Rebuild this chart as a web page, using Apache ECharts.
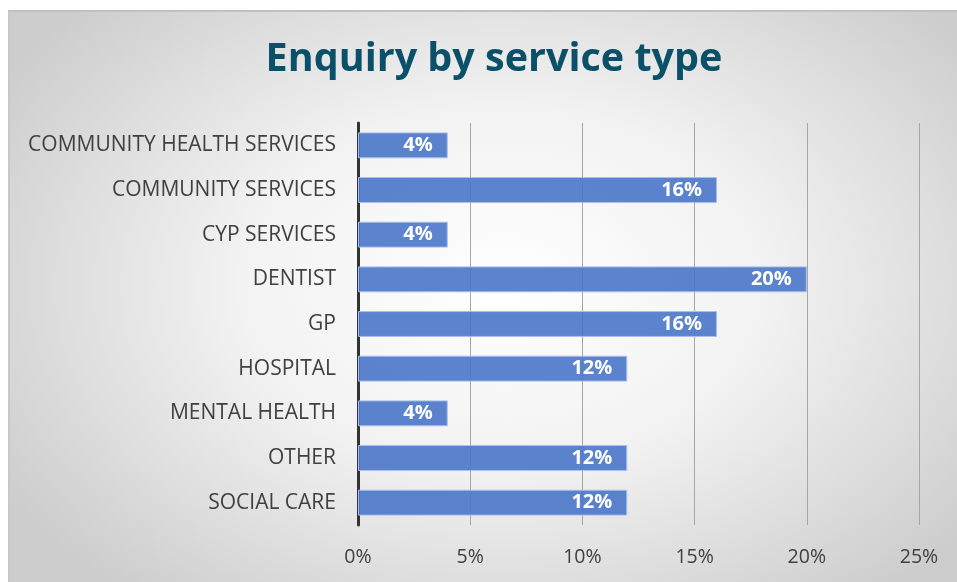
<!DOCTYPE html>
<html>
<head>
<meta charset="utf-8">
<script src="https://cdn.jsdelivr.net/npm/echarts@6/dist/echarts.min.js"></script>
<style>
  html, body { margin: 0; padding: 0; background: #ffffff; }
  #frame {
    position: absolute; left: 8px; top: 10px; width: 949px; height: 572px;
    border-top: 2px solid #c0c0c0; border-left: 2px solid #c8c8c8;
    background: radial-gradient(ellipse 62% 70% at 52% 48%, #ffffff 0%, #f2f2f2 45%, #cdcdcd 100%);
    box-sizing: border-box;
  }
  #chart { position: absolute; left: 0; top: 0; width: 957px; height: 582px; }
</style>
</head>
<body>
<div id="frame"></div>
<div id="chart"></div>
<script>
// Share of enquiries by service type, top row first
const categories = [
  'COMMUNITY HEALTH SERVICES',
  'COMMUNITY SERVICES',
  'CYP SERVICES',
  'DENTIST',
  'GP',
  'HOSPITAL',
  'MENTAL HEALTH',
  'OTHER',
  'SOCIAL CARE'
];
const shares = [4, 16, 4, 20, 16, 12, 4, 12, 12];
const xTicks = [0, 5, 10, 15, 20, 25];

const font = 'Open Sans';
const chart = echarts.init(document.getElementById('chart'), null, { renderer: 'canvas' });

chart.setOption({
  backgroundColor: 'transparent',
  animation: false,
  title: {
    text: 'Enquiry by service type',
    left: 489,
    textAlign: 'center',
    top: 35,
    textStyle: { fontFamily: font, fontWeight: 'bold', fontSize: 39.5, color: '#0b5069' }
  },
  grid: { left: 358, right: 38, top: 123, bottom: 57, containLabel: false },
  xAxis: {
    type: 'value',
    min: xTicks[0],
    max: xTicks[xTicks.length - 1],
    interval: 5,
    axisLine: { show: false },
    axisTick: { show: false },
    splitLine: { show: true, lineStyle: { color: '#a6a6a6', width: 1 } },
    axisLabel: {
      formatter: v => v + '%',
      fontFamily: font, fontSize: 19.5, color: '#404040', margin: 22
    }
  },
  yAxis: {
    type: 'category',
    data: categories,
    inverse: true,
    axisLine: { show: true, lineStyle: { color: '#333333', width: 3 } },
    axisTick: { show: false },
    splitLine: { show: false },
    axisLabel: { fontFamily: font, fontSize: 21, color: '#404040', margin: 22 }
  },
  series: [{
    type: 'bar',
    data: shares,
    barCategoryGap: '42%',
    itemStyle: { color: 'rgba(74,117,200,0.9)', borderColor: '#a9c0ea', borderWidth: 1 },
    label: {
      show: true,
      position: 'insideRight',
      distance: 15,
      formatter: p => p.value + '%',
      fontFamily: font, fontWeight: 'bold', fontSize: 20, color: '#ffffff'
    }
  }]
});
</script>
</body>
</html>
